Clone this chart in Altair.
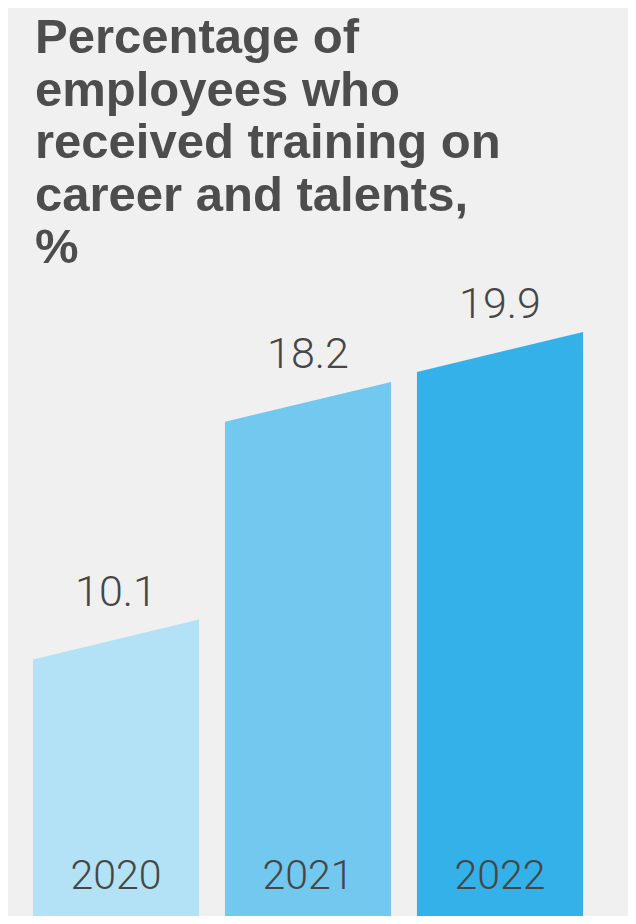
import altair as alt
import pandas as pd

# ---- data ----
years = ["2020", "2021", "2022"]
values = [10.1, 18.2, 19.9]
bar_colors = ["#b3e2f6", "#72c8ee", "#34b1e8"]
title_lines = ["Percentage of", "employees who", "received training on", "career and talents,", "%"]

# ---- styling constants ----
BAR_W = 0.865      # bar width in category units
SLANT = 1.36       # drop of the left top corner (value units)
PX = 192           # pixels per category unit
W = 620
H = 633
D = H * 19.9 / 584  # y domain max

rows = []
for i, (yr, v) in enumerate(zip(years, values)):
    rows.append({"year": yr, "x": i, "v": v - SLANT})
    rows.append({"year": yr, "x": i + BAR_W, "v": v})
area_df = pd.DataFrame(rows)

label_df = pd.DataFrame({
    "year": years,
    "value": values,
    "label": [f"{v:.1f}" for v in values],
    "xc": [i + BAR_W / 2 for i in range(len(years))],
    "base": [0] * len(years),
})

xscale = alt.Scale(domain=[-0.13, -0.13 + W / PX], nice=False, zero=False)
yscale = alt.Scale(domain=[0, D], nice=False)

bars = alt.Chart(area_df).mark_area(interpolate="linear", opacity=1).encode(
    x=alt.X("x:Q", scale=xscale, axis=None),
    y=alt.Y("v:Q", scale=yscale, axis=None, stack=None),
    color=alt.Color("year:N", scale=alt.Scale(domain=years, range=bar_colors), legend=None),
    detail="year:N",
)

vals = alt.Chart(label_df).mark_text(
    font="Roboto", fontWeight=300, fontSize=43, color="#464646",
    baseline="alphabetic", align="center", dy=-14,
).encode(
    x=alt.X("xc:Q", scale=xscale, axis=None),
    y=alt.Y("value:Q", scale=yscale, axis=None),
    text="label:N",
)

yrs = alt.Chart(label_df).mark_text(
    font="Roboto", fontWeight=300, fontSize=41, color="#464646",
    baseline="alphabetic", align="center", dy=-27,
).encode(
    x=alt.X("xc:Q", scale=xscale, axis=None),
    y=alt.Y("base:Q", scale=yscale, axis=None),
    text="year:N",
)

chart = alt.layer(bars, vals, yrs).properties(
    width=W,
    height=H,
    padding={"top": 6, "left": 0, "right": 0, "bottom": 0},
    background="#f0f0f0",
    title=alt.TitleParams(
        text=title_lines,
        anchor="start",
        font="Liberation Sans",
        fontSize=49,
        fontWeight="bold",
        color="#4d4d4d",
        lineHeight=52.5,
        dx=27,
        offset=10,
    ),
).configure_view(stroke=None)

chart.save("out.html", embed_options={"renderer": "svg", "actions": False})
